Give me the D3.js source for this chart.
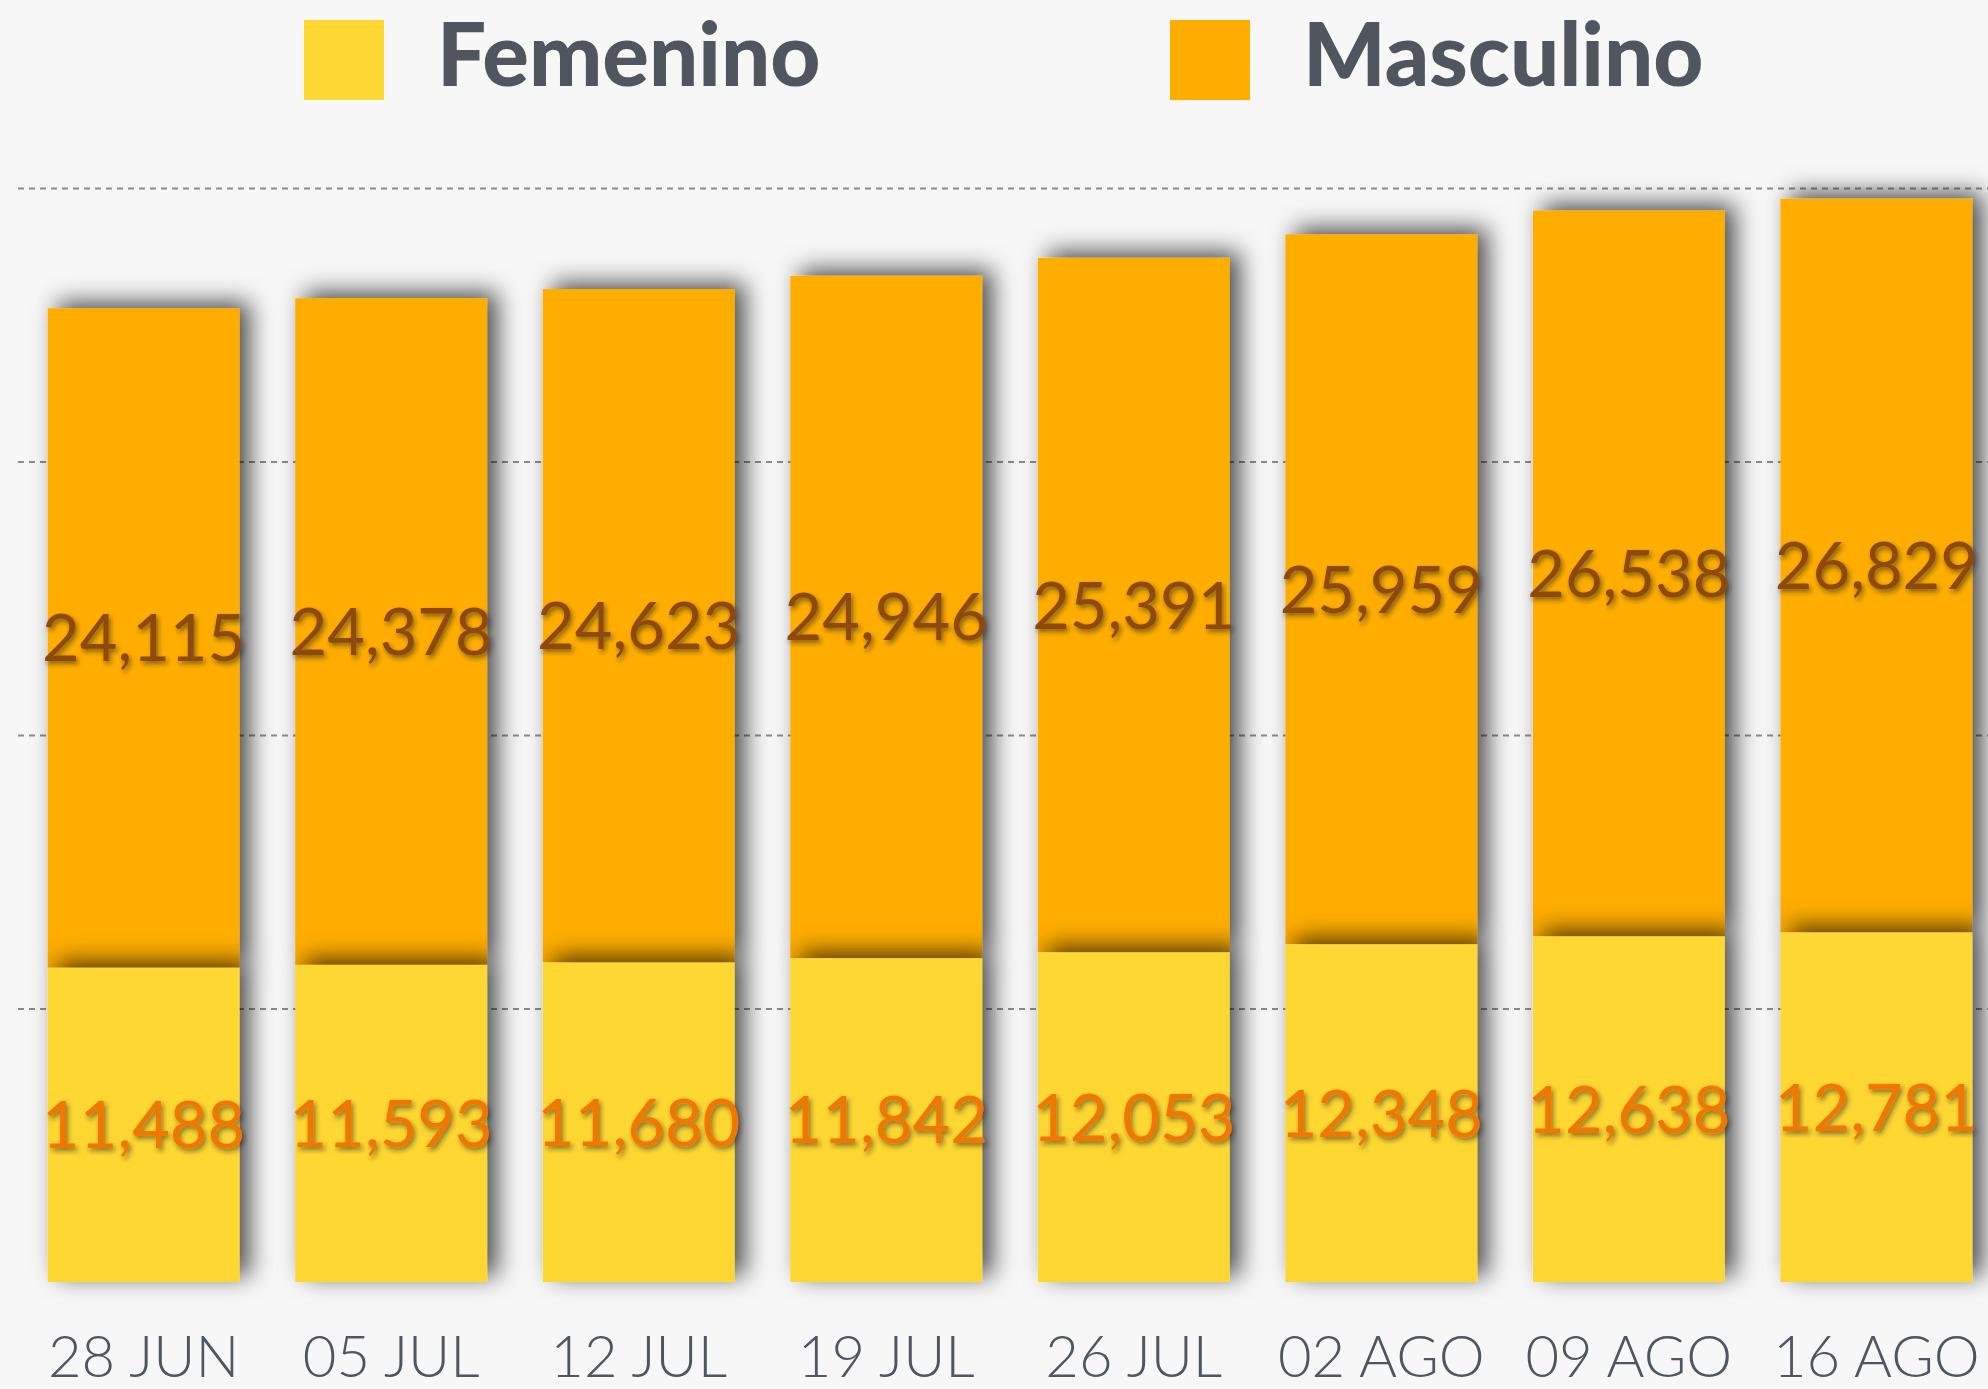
<!DOCTYPE html>
<html>
<head>
<meta charset="utf-8">
<script src="https://cdn.jsdelivr.net/npm/d3@7"></script>
<style>
  html, body { margin: 0; padding: 0; background: #f7f7f7; }
  svg { display: block; }
</style>
</head>
<body>
<svg id="canvas" width="1988" height="1389"></svg>
<script>
// data
const weeks = ["28 JUN", "05 JUL", "12 JUL", "19 JUL", "26 JUL", "02 AGO", "09 AGO", "16 AGO"];
const femenino = [11488, 11593, 11680, 11842, 12053, 12348, 12638, 12781];
const masculino = [24115, 24378, 24623, 24946, 25391, 25959, 26538, 26829];
const seriesNames = ["Femenino", "Masculino"];
const seriesColors = ["#ffd733", "#ffae00"];
const labelColors = ["#f07700", "#8f4a0a"];
const gridTicks = [10000, 20000, 30000, 40000];

const width = 1988, height = 1389;
const baseY = 1282, topY = 188;

const svg = d3.select("#canvas");
svg.append("rect").attr("width", width).attr("height", height).attr("fill", "#f7f7f7");

const defs = svg.append("defs");
// soft shadow behind bars (goes up and to the right)
defs.append("filter").attr("id", "barShadow")
    .attr("x", "-30%").attr("y", "-20%").attr("width", "160%").attr("height", "140%")
  .append("feDropShadow")
    .attr("dx", 10).attr("dy", -6).attr("stdDeviation", 12)
    .attr("flood-color", "#000").attr("flood-opacity", 0.7);
defs.append("filter").attr("id", "textShadow")
    .attr("x", "-10%").attr("y", "-20%").attr("width", "120%").attr("height", "150%")
  .append("feDropShadow")
    .attr("dx", 2).attr("dy", 3).attr("stdDeviation", 2.5)
    .attr("flood-color", "#222").attr("flood-opacity", 0.55);
defs.append("filter").attr("id", "axisShadow")
    .attr("x", "-5%").attr("y", "-500%").attr("width", "110%").attr("height", "1100%")
  .append("feDropShadow")
    .attr("dx", 0).attr("dy", 5).attr("stdDeviation", 5)
    .attr("flood-color", "#000").attr("flood-opacity", 0.15);

const x = d3.scaleBand()
    .domain(weeks)
    .range([18, 2002])
    .paddingInner(0.225)
    .paddingOuter(0.12);

const y = d3.scaleLinear()
    .domain([0, 40000])
    .range([baseY, topY]);

// dashed gridlines
const grid = svg.append("g")
    .attr("transform", `translate(18,0)`)
    .call(d3.axisLeft(y).tickValues(gridTicks).tickSize(-(width - 18)).tickFormat(""));
grid.select(".domain").remove();
grid.selectAll(".tick line")
    .attr("stroke", "#8a8a8a")
    .attr("stroke-width", 2)
    .attr("stroke-dasharray", "6,5");

// stacked bars
const table = weeks.map((w, i) => ({ week: w, Femenino: femenino[i], Masculino: masculino[i] }));
const stacked = d3.stack().keys(seriesNames)(table);

const layers = svg.append("g").selectAll("g")
    .data(stacked)
    .enter()
    .append("g")
    .attr("fill", (d, i) => seriesColors[i]);

layers.selectAll("rect")
    .data(d => d)
    .enter()
    .append("rect")
    .attr("x", d => x(d.data.week))
    .attr("y", d => y(d[1]))
    .attr("width", x.bandwidth())
    .attr("height", d => y(d[0]) - y(d[1]))
    .attr("filter", "url(#barShadow)");

// masculine first, then femenine on top so its shadow falls on the orange part
layers.sort((a, b) => b.index - a.index);

// value labels centred in each segment
const fs = 65;
stacked.forEach((layer, li) => {
    svg.append("g").selectAll("text")
        .data(layer)
        .enter()
        .append("text")
        .attr("x", d => x(d.data.week) + x.bandwidth() / 2)
        .attr("y", d => (y(d[0]) + y(d[1])) / 2 + fs * 0.36)
        .attr("text-anchor", "middle")
        .attr("font-family", "Lato, 'Open Sans', sans-serif")
        .attr("font-size", fs)
        .attr("fill", labelColors[li])
        .attr("filter", "url(#textShadow)")
        .text(d => d3.format(",")(d[1] - d[0]));
});

// x axis
const xAxis = svg.append("g")
    .attr("transform", `translate(0,${baseY})`)
    .call(d3.axisBottom(x).tickSize(0).tickSizeOuter(0));
xAxis.select(".domain")
    .attr("stroke", "#2b323c")
    .attr("stroke-width", 3)
    .attr("filter", "url(#axisShadow)");
xAxis.selectAll(".tick text")
    .attr("y", 95)
    .attr("dy", null)
    .attr("font-family", "Lato, sans-serif")
    .attr("font-weight", 300)
    .attr("font-size", 58)
    .attr("fill", "#50565e");

// legend
const legendX = [304, 1170];
const legend = svg.append("g").selectAll("g")
    .data(seriesNames)
    .enter()
    .append("g")
    .attr("transform", (d, i) => `translate(${legendX[i]},20)`);
legend.append("rect")
    .attr("width", 80)
    .attr("height", 80)
    .attr("fill", (d, i) => seriesColors[i]);
legend.append("text")
    .attr("x", 133)
    .attr("y", 66)
    .attr("font-family", "Lato, sans-serif")
    .attr("font-weight", 900)
    .attr("font-size", 87)
    .attr("fill", "#51565e")
    .text(d => d);
</script>
</body>
</html>
